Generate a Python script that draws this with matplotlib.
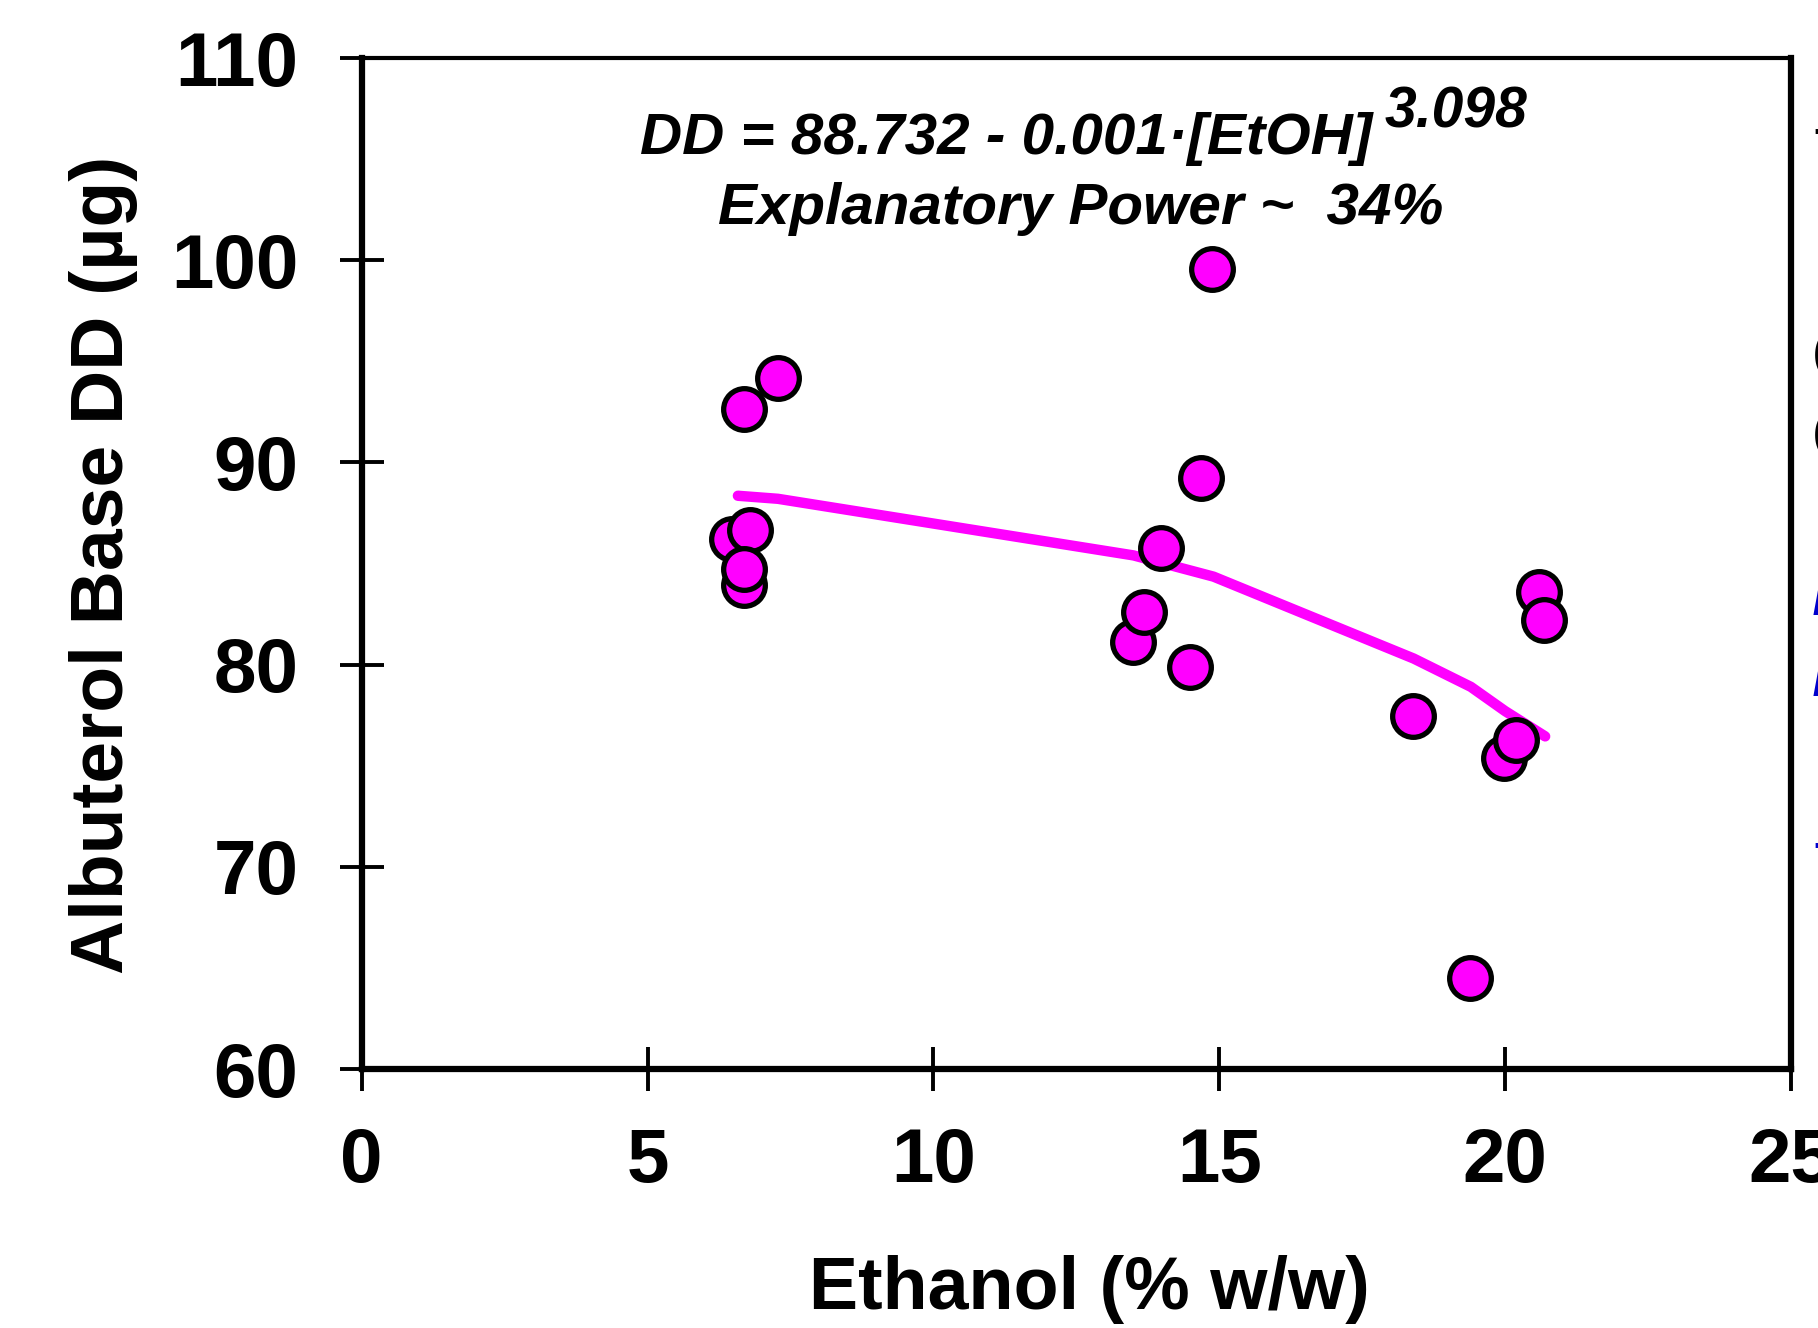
import matplotlib
matplotlib.use("Agg")
import matplotlib.pyplot as plt

plt.rcParams["font.family"] = ["Liberation Sans", "DejaVu Sans"]

# measured points (ethanol % w/w, albuterol base delivered dose in ug)
ethanol = [6.47, 6.79, 6.69, 6.69, 6.69, 7.28,
           13.49, 13.68, 13.98, 14.48, 14.68, 14.88,
           18.38, 19.38, 19.98, 20.19, 20.59, 20.68]
dose = [86.2, 86.66, 83.94, 84.74, 92.64, 94.19,
        81.1, 82.59, 85.75, 79.9, 89.24, 99.55,
        77.46, 64.52, 75.4, 76.27, 83.57, 82.21]

# fitted curve as drawn (vertices)
fit_ethanol = [6.58, 7.28, 13.5, 14.9, 18.4, 19.4, 20.0, 20.7]
fit_dose = [88.35, 88.2, 85.4, 84.35, 80.3, 78.9, 77.7, 76.45]

x_ticks = [0, 5, 10, 15, 20, 25]
y_ticks = [60, 70, 80, 90, 100, 110]

magenta = "#FF00FF"
W, H = 1818, 1328

fig = plt.figure(figsize=(W / 100, H / 100), dpi=100)
ax = fig.add_axes([361.7 / W, 1 - 1069 / H, (1791 - 361.7) / W, (1069 - 58) / H])

ax.plot(fit_ethanol, fit_dose, color=magenta, lw=7.5, solid_capstyle="round",
        solid_joinstyle="round", zorder=2)
ax.plot(ethanol, dose, ls="none", marker="o", ms=30, mfc=magenta, mec="black",
        mew=3.8, zorder=3)

ax.set_xlim(0, 25)
ax.set_ylim(60, 110)
ax.set_xticks(x_ticks)
ax.set_yticks(y_ticks)
ax.tick_params(direction="inout", length=31, width=2.8, color="black")
ax.tick_params(axis="x", pad=26)
ax.tick_params(axis="y", pad=30)
for lab in ax.get_xticklabels() + ax.get_yticklabels():
    lab.set_fontsize(55)
    lab.set_fontweight("bold")

for side in ["left", "bottom", "right"]:
    ax.spines[side].set_linewidth(4.5)
ax.spines["top"].set_linewidth(3)

fig.text(104 / W, 1 - 565 / H, "Albuterol Base DD (\u00b5g)", rotation=90,
         ha="center", va="center", fontsize=54, fontweight="bold")
fig.text(1089 / W, 1 - 1289 / H, "Ethanol (% w/w)", ha="center", va="center",
         fontsize=53, fontweight="bold")

eq = fig.text(640 / W, 1 - 154 / H, "DD = 88.732 - 0.001\u00b7[EtOH]",
              ha="left", va="baseline", fontsize=42, fontweight="bold",
              fontstyle="italic")
fig.canvas.draw()
bb = eq.get_window_extent(fig.canvas.get_renderer())
fig.text((bb.x1 + 12) / W, 1 - 127 / H, "3.098", ha="left", va="baseline",
         fontsize=41, fontweight="bold", fontstyle="italic")
fig.text(1081 / W, 1 - 224 / H, "Explanatory Power ~  34%", ha="center",
         va="baseline", fontsize=42, fontweight="bold", fontstyle="italic")

# cut-off text at the right edge of the original slide
for ypix, col, s in [(132, "black", "-"), (355, "black", "("), (435, "black", "("),
                     (603, "#0000CC", "/"), (684, "#0000CC", "/"), (846, "#0000CC", "-")]:
    fig.text(1813 / W, 1 - ypix / H, s, ha="left", va="center", fontsize=30,
             color=col, fontweight="bold")

fig.savefig("out.png", dpi=100)
